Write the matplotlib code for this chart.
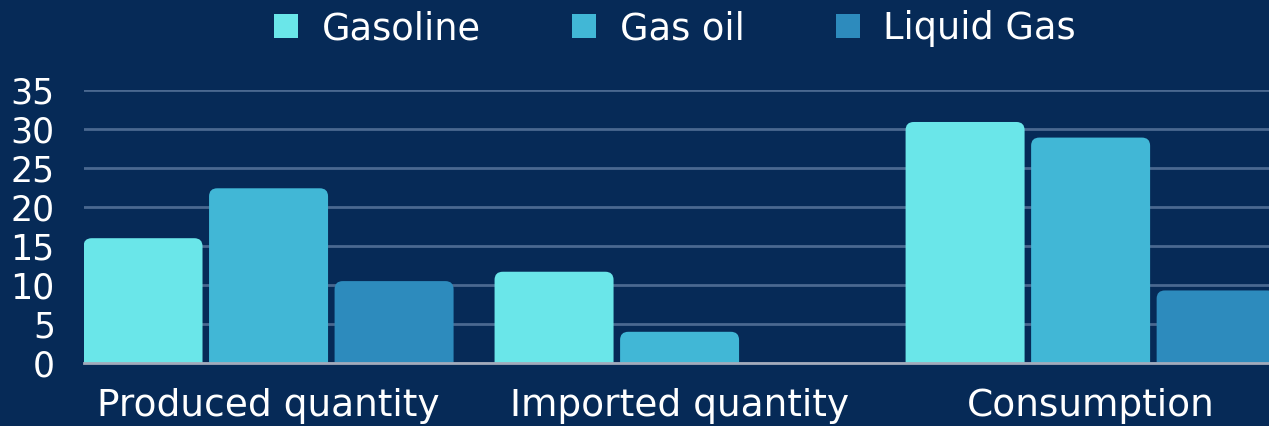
import matplotlib
matplotlib.use("Agg")
import matplotlib.pyplot as plt
from matplotlib.patches import FancyBboxPatch, Rectangle
import numpy as np

# data
categories = ["Produced quantity", "Imported quantity", "Consumption"]
series = ["Gasoline", "Gas oil", "Liquid Gas"]
gasoline = [16.0, 11.7, 30.9]
gas_oil = [22.4, 4.0, 28.9]
liquid_gas = [10.5, 0.0, 9.3]
yticks = [0, 5, 10, 15, 20, 25, 30, 35]

colors = ["#6ae6e9", "#41b7d6", "#2d8bbd"]
bg = "#062a57"

plt.rcParams["font.family"] = ["DejaVu Sans"]

fig = plt.figure(figsize=(12.69, 4.26), dpi=100, facecolor=bg)
ax = fig.add_axes([84 / 1269, 63 / 426, 1 - 84 / 1269, 273 / 426])
ax.set_facecolor(bg)

x = np.arange(len(categories))
step = 0.3054
width = 0.2895
values = [gasoline, gas_oil, liquid_gas]

for j, (name, vals) in enumerate(zip(series, values)):
    bars = ax.bar(x + (j - 1) * step, vals, width, color=colors[j], label=name)
    # swap plain bars for rounded-top ones
    for b in bars:
        b.set_visible(False)
        h = b.get_height()
        if h <= 0:
            continue
        p = FancyBboxPatch((b.get_x(), -2), b.get_width(), h + 2,
                           boxstyle="round,pad=0,rounding_size=0.02",
                           mutation_aspect=52, facecolor=colors[j],
                           edgecolor="none", zorder=3)
        ax.add_patch(p)

ax.set_xlim(-0.449, 2.434)
ax.set_ylim(0, 35)
ax.set_yticks(yticks)
ax.set_xticks(x)
ax.set_xticklabels(categories)
ax.yaxis.grid(True, color="#4a6890", linewidth=2)
ax.set_axisbelow(True)
for s in ["top", "right", "left"]:
    ax.spines[s].set_visible(False)
ax.spines["bottom"].set_color("#a3abbb")
ax.spines["bottom"].set_linewidth(2)
ax.spines["bottom"].set_zorder(4)
ax.tick_params(axis="y", length=0, pad=21, labelsize=25, labelcolor="white")
ax.tick_params(axis="x", length=0, pad=18, labelsize=27, labelcolor="white")

handles = [Rectangle((0, 0), 1, 1, facecolor=c, edgecolor="none") for c in colors]
fig.legend(handles, series, loc="upper center", bbox_to_anchor=(0.532, 1.054),
           ncol=3, frameon=False, fontsize=26.5, labelcolor="white",
           handlelength=0.65, handleheight=0.65, handletextpad=0.65,
           columnspacing=2.47)

fig.savefig("out.png", dpi=100, facecolor=bg)
